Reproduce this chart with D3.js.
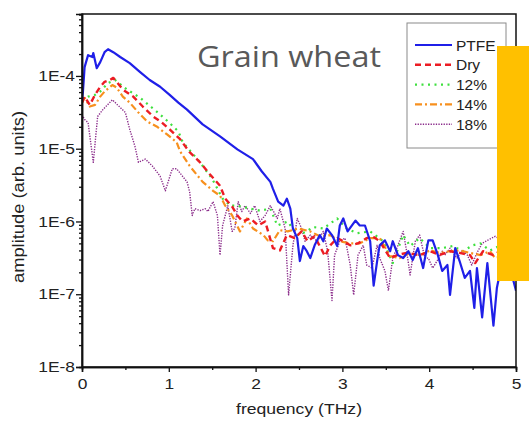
<!DOCTYPE html>
<html>
<head>
<meta charset="utf-8">
<title>Grain wheat THz spectra</title>
<script src="https://d3js.org/d3.v7.min.js"></script>
<style>
    body { margin: 0; background: #fff; }
    svg { display: block; }
</style>
</head>
<body>
<div id="chart"></div>
<script>
// values: [frequency THz, amplitude]
var ptfe = [[0.00,4.7e-5],[0.01,5.9e-5],[0.03,1.32e-4],[0.07,1.93e-4],[0.12,1.82e-4],[0.13,2.06e-4],[0.17,1.28e-4],[0.21,1.55e-4],[0.26,2.12e-4],[0.30,2.33e-4],[0.36,2.12e-4],[0.44,1.82e-4],[0.55,1.50e-4],[0.67,1.13e-4],[0.78,8.8e-5],[0.90,7.1e-5],[1.01,5.5e-5],[1.11,4.3e-5],[1.21,3.44e-5],[1.39,2.16e-5],[1.59,1.48e-5],[1.79,9.8e-6],[1.97,7.2e-6],[2.07,4.9e-6],[2.17,3.5e-6],[2.20,2.8e-6],[2.26,1.87e-6],[2.32,1.65e-6],[2.36,2.06e-6],[2.40,1.50e-6],[2.43,8.0e-7],[2.48,5.9e-7],[2.51,2.86e-7],[2.55,4.6e-7],[2.59,3.9e-7],[2.63,3.14e-7],[2.68,4.7e-7],[2.74,6.5e-7],[2.78,5.35e-7],[2.82,8.0e-7],[2.88,6.5e-7],[2.94,4.6e-7],[2.97,8.8e-7],[3.01,1.10e-6],[3.06,7.3e-7],[3.15,1.03e-6],[3.20,8.8e-7],[3.26,8.8e-7],[3.32,5.35e-7],[3.36,1.31e-7],[3.41,3.45e-7],[3.43,4.7e-7],[3.49,5.5e-7],[3.55,3.9e-7],[3.58,5.35e-7],[3.64,3.45e-7],[3.70,3.14e-7],[3.76,3.9e-7],[3.81,2.95e-7],[3.87,4.3e-7],[3.93,2.29e-7],[3.99,5.5e-7],[4.04,5.5e-7],[4.10,3.45e-7],[4.15,2.09e-7],[4.21,2.52e-7],[4.24,9.8e-8],[4.30,4.3e-7],[4.35,2.86e-7],[4.41,1.68e-7],[4.47,2.09e-7],[4.52,6.5e-8],[4.55,2.29e-7],[4.61,4.8e-8],[4.67,2.68e-7],[4.74,3.7e-8],[4.78,1.23e-7],[4.85,3.14e-7],[4.92,3.7e-7],[4.95,1.9e-7],[5.00,1.12e-7]];

var dry = [[0.00,4.3e-5],[0.03,5.2e-5],[0.09,4.0e-5],[0.15,5.5e-5],[0.21,7.1e-5],[0.26,8.3e-5],[0.32,8.8e-5],[0.36,9.4e-5],[0.41,8.0e-5],[0.47,6.5e-5],[0.59,5.2e-5],[0.70,3.8e-5],[0.82,2.77e-5],[0.92,2.29e-5],[1.01,1.84e-5],[1.13,1.35e-5],[1.24,8.95e-6],[1.36,6.5e-6],[1.47,4.5e-6],[1.59,3.1e-6],[1.65,2.06e-6],[1.73,1.60e-6],[1.79,1.21e-6],[1.85,1.0e-6],[1.94,1.10e-6],[2.03,8.8e-7],[2.11,1.0e-6],[2.20,4.3e-7],[2.28,4.0e-7],[2.36,6.5e-7],[2.45,5.9e-7],[2.53,7.3e-7],[2.60,5.35e-7],[2.68,6.25e-7],[2.80,3.34e-7],[2.86,4.7e-7],[2.94,5.9e-7],[3.01,5.35e-7],[3.09,4.7e-7],[3.18,5.0e-7],[3.28,5.9e-7],[3.35,6.25e-7],[3.43,5.35e-7],[3.55,3.14e-7],[3.63,3.45e-7],[3.74,3.7e-7],[3.89,3.45e-7],[4.01,3.9e-7],[4.12,3.45e-7],[4.24,3.9e-7],[4.35,3.7e-7],[4.47,3.45e-7],[4.53,2.68e-7],[4.62,3.9e-7],[4.74,3.45e-7],[4.87,4.3e-7],[5.00,3.7e-7]];

var pct12 = [[0.00,4.7e-5],[0.07,5.2e-5],[0.15,5.5e-5],[0.21,6.1e-5],[0.30,8.0e-5],[0.38,8.8e-5],[0.52,6.5e-5],[0.67,5.0e-5],[0.86,3.24e-5],[0.99,2.37e-5],[1.11,1.73e-5],[1.16,1.23e-5],[1.36,6.5e-6],[1.50,3.85e-6],[1.62,2.06e-6],[1.71,1.65e-6],[1.79,1.65e-6],[1.94,1.50e-6],[2.05,1.41e-6],[2.17,1.50e-6],[2.25,8.8e-7],[2.37,1.0e-6],[2.48,6.5e-7],[2.59,7.3e-7],[2.66,8.4e-7],[2.78,8.0e-7],[2.94,1.10e-6],[3.05,8.0e-7],[3.17,6.9e-7],[3.32,7.3e-7],[3.47,5.35e-7],[3.58,2.68e-7],[3.70,6.5e-7],[3.78,4.6e-7],[3.89,5.9e-7],[4.01,4.3e-7],[4.15,4.3e-7],[4.27,4.6e-7],[4.39,3.9e-7],[4.50,4.7e-7],[4.59,5.0e-7],[4.70,4.0e-7],[4.87,5.0e-7],[5.00,4.6e-7]];

var pct14 = [[0.00,4.3e-5],[0.03,5.0e-5],[0.09,3.8e-5],[0.15,4.0e-5],[0.21,5.2e-5],[0.26,6.1e-5],[0.35,7.5e-5],[0.40,6.9e-5],[0.47,5.2e-5],[0.55,4.3e-5],[0.65,3.14e-5],[0.75,2.37e-5],[0.86,2.02e-5],[0.98,1.57e-5],[1.09,1.23e-5],[1.13,9.2e-6],[1.24,5.8e-6],[1.39,3.5e-6],[1.51,2.64e-6],[1.59,2.26e-6],[1.65,1.65e-6],[1.73,1.21e-6],[1.82,7.3e-7],[1.90,1.10e-6],[1.97,8.0e-7],[2.09,6.5e-7],[2.14,5.5e-7],[2.20,5.35e-7],[2.28,7.6e-7],[2.37,7.3e-7],[2.49,8.0e-7],[2.63,7.3e-7],[2.74,6.25e-7],[2.86,6.5e-7],[2.97,5.35e-7],[3.09,5.0e-7],[3.20,5.0e-7],[3.32,5.9e-7],[3.43,5.9e-7],[3.55,3.34e-7],[3.66,3.14e-7],[3.78,3.7e-7],[3.89,3.45e-7],[4.01,4.0e-7],[4.12,3.7e-7],[4.24,3.9e-7],[4.35,4.0e-7],[4.47,3.7e-7],[4.59,3.45e-7],[4.70,3.9e-7],[4.76,3.14e-7],[5.00,3.7e-7]];

var pct18 = [[0.00,2.94e-5],[0.03,2.52e-5],[0.07,2.29e-5],[0.13,6.5e-6],[0.18,2.77e-5],[0.24,3.44e-5],[0.35,4.7e-5],[0.41,4.0e-5],[0.50,3.14e-5],[0.55,1.84e-5],[0.61,1.08e-5],[0.65,6.5e-6],[0.73,7.2e-6],[0.81,5.8e-6],[0.90,4.2e-6],[0.96,2.64e-6],[1.04,5.3e-6],[1.09,5.3e-6],[1.21,3.5e-6],[1.24,2.56e-6],[1.27,1.21e-6],[1.30,1.50e-6],[1.36,1.41e-6],[1.42,1.50e-6],[1.45,1.37e-6],[1.51,1.87e-6],[1.56,1.21e-6],[1.59,3.45e-7],[1.62,8.8e-7],[1.68,1.65e-6],[1.73,7.3e-7],[1.76,8.0e-7],[1.80,1.87e-6],[1.84,1.37e-6],[1.88,1.65e-6],[1.94,1.29e-6],[1.99,1.65e-6],[2.05,1.0e-6],[2.11,1.21e-6],[2.17,1.65e-6],[2.25,1.10e-6],[2.28,1.50e-6],[2.34,8.0e-7],[2.38,9.8e-8],[2.43,4.7e-7],[2.48,1.10e-6],[2.53,8.0e-7],[2.57,5.35e-7],[2.63,6.5e-7],[2.71,5.35e-7],[2.78,7.3e-7],[2.83,3.9e-7],[2.88,8.2e-8],[2.91,3.45e-7],[2.97,5.35e-7],[3.03,5.9e-7],[3.09,2.52e-7],[3.13,9.8e-8],[3.18,3.45e-7],[3.24,4.7e-7],[3.28,2.52e-7],[3.34,2.29e-7],[3.40,4.7e-7],[3.43,3.14e-7],[3.49,2.09e-7],[3.53,1.12e-7],[3.58,3.14e-7],[3.64,4.7e-7],[3.70,7.3e-7],[3.74,3.9e-7],[3.78,1.84e-7],[3.84,5.35e-7],[3.89,6.5e-7],[3.95,3.14e-7],[3.99,3.14e-7],[4.04,2.29e-7],[4.09,2.86e-7],[4.15,3.9e-7],[4.18,3.45e-7],[4.24,4.3e-7],[4.32,3.14e-7],[4.38,4.0e-7],[4.44,3.45e-7],[4.49,2.52e-7],[4.55,3.7e-7],[4.61,5.0e-7],[4.67,5.5e-7],[4.72,5.9e-7],[4.76,6.25e-7],[5.00,4.3e-7]];

var seriesNames = ["PTFE", "Dry", "12%", "14%", "18%"];
var xTicks = [0, 1, 2, 3, 4, 5];
var xMinorTicks = [0.5, 1.5, 2.5, 3.5, 4.5];
var yTicks = [1e-8, 1e-7, 1e-6, 1e-5, 1e-4];
var yTickLabels = ["1E-8", "1E-7", "1E-6", "1E-5", "1E-4"];

var W = 529, H = 426;
var margin = { top: 14, right: 13, bottom: 59, left: 82 },
    width = W - margin.left - margin.right,
    height = H - margin.top - margin.bottom;

var FONT = "'Liberation Sans', Arial, sans-serif";
var SX = 1.2; // the source picture is stretched sideways a little

var svg = d3.select("#chart").append("svg")
    .attr("width", W)
    .attr("height", H)
    .style("font-family", FONT);

var g = svg.append("g")
    .attr("transform", "translate(" + margin.left + "," + margin.top + ")");

var x = d3.scaleLinear().domain([0, 5]).range([0, width]);
var y = d3.scaleLog().domain([1e-8, 7.1e-4]).range([height, 0]);

// minor ticks for the log axis: 2..9 per decade
var yMinor = [];
yTicks.forEach(function (dec) {
    for (var k = 2; k <= 9; k++) {
        if (dec * k <= 7.1e-4) yMinor.push(dec * k);
    }
});

g.append("defs").append("clipPath").attr("id", "clip")
    .append("rect").attr("width", width).attr("height", height);

// series styles
var styles = [
    { data: ptfe,  color: "#1f1fe8", w: 2.2, dash: null },
    { data: dry,   color: "#ec1c24", w: 2.4, dash: "6,4" },
    { data: pct12, color: "#3ee03e", w: 2.2, dash: "2,4.5" },
    { data: pct14, color: "#f7901e", w: 2.2, dash: "7,3,2,3" },
    { data: pct18, color: "#8a2b8a", w: 1.4, dash: "1.3,1.3" }
];

var line = d3.line()
    .x(function (d) { return x(d[0]); })
    .y(function (d) { return y(d[1]); });

var plot = g.append("g").attr("clip-path", "url(#clip)");
// back to front, PTFE on top
[4, 2, 3, 1, 0].forEach(function (i) {
    var s = styles[i];
    plot.append("path")
        .datum(s.data)
        .attr("d", line)
        .attr("fill", "none")
        .attr("stroke", s.color)
        .attr("stroke-width", s.w)
        .attr("stroke-dasharray", s.dash)
        .attr("stroke-linejoin", "round");
});

// frame
g.append("rect")
    .attr("width", width).attr("height", height)
    .attr("fill", "none").attr("stroke", "#111").attr("stroke-width", 1.5);

// x axis
var xAxis = g.append("g")
    .attr("transform", "translate(0," + height + ")")
    .call(d3.axisBottom(x).tickValues(xTicks).tickSize(5).tickFormat(d3.format("d")));
g.append("g")
    .attr("transform", "translate(0," + height + ")")
    .call(d3.axisBottom(x).tickValues(xMinorTicks).tickSize(3).tickFormat(""));

// y axis
var yAxis = g.append("g")
    .call(d3.axisLeft(y).tickValues(yTicks).tickSize(6)
        .tickFormat(function (d, i) { return yTickLabels[i]; }));
g.append("g")
    .call(d3.axisLeft(y).tickValues(yMinor).tickSize(3).tickFormat(""));

g.selectAll(".domain").attr("stroke", "#111").attr("stroke-width", 1.5);
g.selectAll(".tick line").attr("stroke", "#111").attr("stroke-width", 1.3);
xAxis.selectAll("text")
    .attr("font-size", 14.5).attr("font-family", FONT).attr("fill", "#222")
    .attr("dy", "0.95em")
    .attr("transform", "scale(" + SX + ",1)");
yAxis.selectAll("text")
    .attr("font-size", 14.5).attr("font-family", FONT).attr("fill", "#222")
    .attr("x", -7 / SX)
    .attr("transform", "scale(" + SX + ",1)");

// axis titles
svg.append("text")
    .attr("x", 236).attr("y", 414)
    .attr("font-size", 14.5)
    .attr("textLength", 126).attr("lengthAdjust", "spacingAndGlyphs")
    .attr("fill", "#222")
    .text("frequency (THz)");

svg.append("text")
    .attr("transform", "translate(24,283) rotate(-90)")
    .attr("font-size", 16)
    .attr("textLength", 172).attr("lengthAdjust", "spacingAndGlyphs")
    .attr("fill", "#222")
    .text("amplitude (arb. units)");

// legend
var legend = svg.append("g").attr("transform", "translate(407,23)");
legend.append("rect")
    .attr("width", 99).attr("height", 125)
    .attr("fill", "#fff").attr("stroke", "#8a8a8a").attr("stroke-width", 1);
seriesNames.forEach(function (name, i) {
    var s = styles[i];
    var ly = 22 + i * 19.8;
    legend.append("line")
        .attr("x1", 8).attr("x2", 45).attr("y1", ly).attr("y2", ly)
        .attr("stroke", s.color).attr("stroke-width", s.w)
        .attr("stroke-dasharray", s.dash);
    legend.append("text")
        .attr("x", 49).attr("y", ly).attr("dy", "0.36em")
        .attr("font-size", 15.5)
        .attr("fill", "#222")
        .text(name);
});

// slide title
svg.append("text")
    .attr("x", 197).attr("y", 67)
    .style("font-family", "'Open Sans', sans-serif")
    .attr("font-size", 30)
    .attr("textLength", 184).attr("lengthAdjust", "spacingAndGlyphs")
    .style("fill", "#595959")
    .text("Grain wheat");

// yellow block from the slide
svg.append("rect")
    .attr("x", 497).attr("y", 46)
    .attr("width", 32).attr("height", 235)
    .attr("fill", "#ffc000");
</script>
</body>
</html>
